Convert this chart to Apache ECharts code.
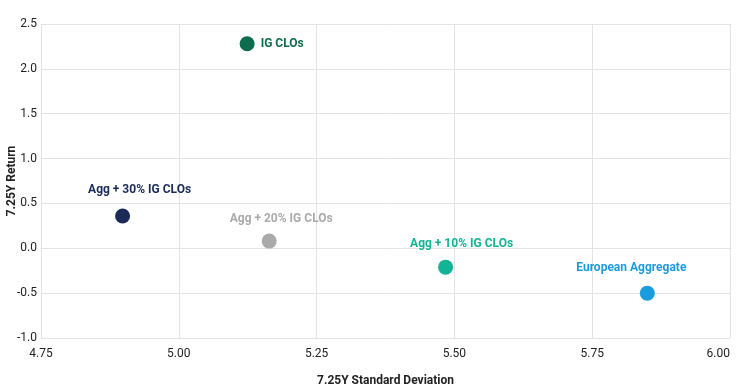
<!DOCTYPE html>
<html><head><meta charset="utf-8">
<script src="https://cdn.jsdelivr.net/npm/echarts@6/dist/echarts.min.js"></script>
<style>html,body{margin:0;padding:0;background:#fff}#c{width:737px;height:388px}</style>
</head><body><div id="c"></div>
<script>
const names = ['IG CLOs', 'Agg + 30% IG CLOs', 'Agg + 20% IG CLOs', 'Agg + 10% IG CLOs', 'European Aggregate'];
const stdDev = [5.124, 4.898, 5.164, 5.484, 5.85];
const returns = [2.28, 0.36, 0.08, -0.21, -0.50];
const xTicks = [4.75, 5.00, 5.25, 5.50, 5.75, 6.00];
const yTicks = [-1.0, -0.5, 0.0, 0.5, 1.0, 1.5, 2.0, 2.5];

const colors = ['#0d6b4e', '#1a2b57', '#aaaaaa', '#13b396', '#1b9cdc'];
const labelPos = ['right', 'top', 'top', 'top', 'top'];
const labelOff = [[0, 0], [17, -6], [12, -3], [16, -4], [-16, -6]];

const chart = echarts.init(document.getElementById('c'));
chart.setOption({
  animation: false,
  grid: { left: 41, right: 7, top: 24, bottom: 50, containLabel: false, outerBoundsMode: 'none' },
  xAxis: {
    type: 'value', min: xTicks[0], max: xTicks[xTicks.length - 1], interval: 0.25,
    name: '7.25Y Standard Deviation', nameLocation: 'middle', nameGap: 37, nameMoveOverlap: false,
    nameTextStyle: { fontFamily: 'Roboto', fontWeight: 'bold', fontSize: 12, color: '#222' },
    axisLine: { show: true, lineStyle: { color: '#e3e3e3' } },
    axisTick: { show: false },
    splitLine: { show: true, lineStyle: { color: '#e3e3e3' } },
    axisLabel: { fontFamily: 'Roboto', fontSize: 12, color: '#222', margin: 10, alignMaxLabel: 'right',
      formatter: v => v.toFixed(2) }
  },
  yAxis: {
    type: 'value', min: yTicks[0], max: yTicks[yTicks.length - 1], interval: 0.5,
    name: '7.25Y Return', nameLocation: 'middle', nameGap: 23, nameMoveOverlap: false,
    nameTextStyle: { fontFamily: 'Roboto', fontWeight: 'bold', fontSize: 12, color: '#222' },
    axisLine: { show: true, lineStyle: { color: '#e3e3e3' } },
    axisTick: { show: false },
    splitLine: { show: true, lineStyle: { color: '#e3e3e3' } },
    axisLabel: { fontFamily: 'Roboto', fontSize: 12, color: '#222', margin: 4,
      formatter: v => v.toFixed(1) }
  },
  series: names.map((n, i) => ({
    type: 'scatter', name: n, symbolSize: 15,
    itemStyle: { color: colors[i], opacity: 1 },
    label: {
      show: true, position: labelPos[i], offset: labelOff[i], distance: 6,
      formatter: n, color: colors[i], fontFamily: 'Roboto', fontWeight: 'bold', fontSize: 12
    },
    data: [[stdDev[i], returns[i]]]
  }))
});
</script></body></html>
